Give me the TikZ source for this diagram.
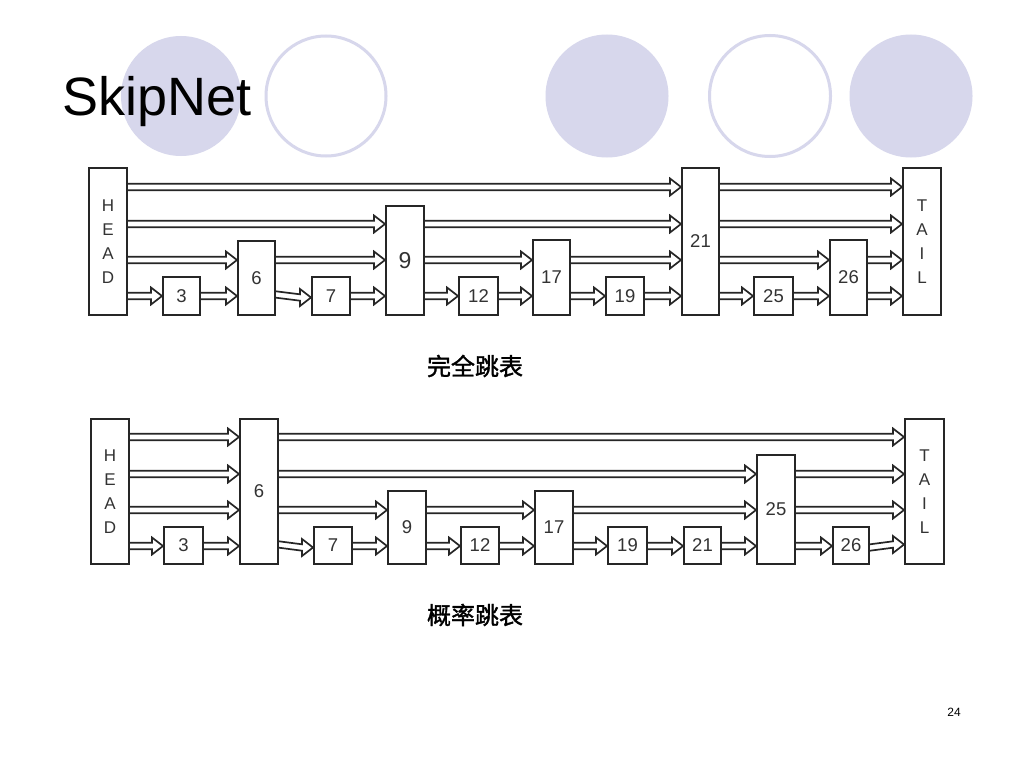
\documentclass[tikz,border=0pt]{standalone}
\usepackage{fontspec}
\setmainfont{Liberation Sans}
\newfontfamily\cjk[FakeBold=1.5]{Noto Sans CJK SC}
\usetikzlibrary{calc}
\definecolor{lav}{HTML}{D7D7EC}
\definecolor{ink}{HTML}{262626}
\definecolor{txt}{HTML}{333333}
\newcommand\mybox[6]{\node[box, anchor=south west, minimum width=#4pt-#2pt, minimum height=#5pt-#3pt] (#1) at (#2,#5) {#6};}
\begin{document}
\begin{tikzpicture}[x=1pt,y=-1pt,
  box/.style={draw=ink, line width=2pt, fill=white, inner sep=0pt, text=txt, font=\fontsize{18.5}{18.5}\selectfont},
  endbox/.style={font=\fontsize{17}{24.2}\selectfont, align=center},
  darr/.style={draw=ink, line width=1.7pt, to path={let \p1=(\tikztostart), \p2=(\tikztotarget) in
     (\x1,\y1+3.2pt) -- (\x2-11pt,\y2+3.2pt) -- (\x2-11pt,\y2+8.5pt) -- (\x2,\y2) -- (\x2-11pt,\y2-8.5pt) -- (\x2-11pt,\y2-3.2pt) -- (\x1,\y1-3.2pt)}},
  filledc/.style={fill=lav, draw=none},
  openc/.style={draw=lav, line width=3pt, fill=white}]
\useasboundingbox (0,0) rectangle (1024,768);
\fill[white] (0,0) rectangle (1024,768);
% decorative circles
\node[filledc, circle, minimum size=120pt, inner sep=0pt] (c1) at (181,96) {};
\node[openc, circle, minimum size=120pt, inner sep=0pt] (c2) at (326,96) {};
\node[filledc, circle, minimum size=123pt, inner sep=0pt] (c3) at (607,96) {};
\node[openc, circle, minimum size=121pt, inner sep=0pt] (c4) at (770,96) {};
\node[filledc, circle, minimum size=123pt, inner sep=0pt] (c5) at (911,96) {};
% title
\node[anchor=base west, inner sep=0pt, font=\fontsize{54}{54}\selectfont] (title) at (62,115) {SkipNet};

% ---------- top: complete skip list ----------
\coordinate (a1) at (0,187);
\coordinate (a2) at (0,224);
\coordinate (a3) at (0,260);
\coordinate (a4) at (0,296);
\mybox{tH}{88}{169}{126}{316}{}
\mybox{t3}{162}{278}{199}{316}{3}
\mybox{t6}{237}{242}{274}{316}{6}
\mybox{t7}{311}{278}{349}{316}{7}
\mybox{t9}{385}{207}{423}{316}{\fontsize{23}{23}\selectfont 9}
\mybox{t12}{458}{278}{497}{316}{12}
\mybox{t17}{532}{241}{569}{316}{17}
\mybox{t19}{605}{278}{643}{316}{19}
\mybox{t21}{681}{169}{718}{316}{21}
\mybox{t25}{753}{278}{792}{316}{25}
\mybox{t26}{829}{241}{866}{316}{26}
\mybox{tT}{902}{169}{940}{316}{}
\node[endbox, text=txt, inner sep=0pt] (tHl) at (tH.center) {H\\E\\A\\D};
\node[endbox, text=txt, inner sep=0pt] (tTl) at (tT.center) {T\\A\\I\\L};
% level 4
\draw[darr] (tH.east |- a4) to (t3.west |- a4);
\draw[darr] (t3.east |- a4) to (t6.west |- a4);
\draw[darr] ($(t6.east |- a4)+(0,-1.5)$) to ($(t7.west |- a4)+(0,1.5)$);
\draw[darr] (t7.east |- a4) to (t9.west |- a4);
\draw[darr] (t9.east |- a4) to (t12.west |- a4);
\draw[darr] (t12.east |- a4) to (t17.west |- a4);
\draw[darr] (t17.east |- a4) to (t19.west |- a4);
\draw[darr] (t19.east |- a4) to (t21.west |- a4);
\draw[darr] (t21.east |- a4) to (t25.west |- a4);
\draw[darr] (t25.east |- a4) to (t26.west |- a4);
\draw[darr] (t26.east |- a4) to (tT.west |- a4);
% level 3
\draw[darr] (tH.east |- a3) to (t6.west |- a3);
\draw[darr] (t6.east |- a3) to (t9.west |- a3);
\draw[darr] (t9.east |- a3) to (t17.west |- a3);
\draw[darr] (t17.east |- a3) to (t21.west |- a3);
\draw[darr] (t21.east |- a3) to (t26.west |- a3);
\draw[darr] (t26.east |- a3) to (tT.west |- a3);
% level 2
\draw[darr] (tH.east |- a2) to (t9.west |- a2);
\draw[darr] (t9.east |- a2) to (t21.west |- a2);
\draw[darr] (t21.east |- a2) to (tT.west |- a2);
% level 1
\draw[darr] (tH.east |- a1) to (t21.west |- a1);
\draw[darr] (t21.east |- a1) to (tT.west |- a1);
\node[font=\cjk\fontsize{24}{24}\selectfont, inner sep=0pt] (cap1) at (475,366) {完全跳表};

% ---------- bottom: probabilistic skip list ----------
\coordinate (b1) at (0,437);
\coordinate (b2) at (0,474);
\coordinate (b3) at (0,510);
\coordinate (b4) at (0,546);
\mybox{bH}{90}{420}{128}{565}{}
\mybox{b3n}{163}{528}{202}{565}{3}
\mybox{b6}{239}{420}{277}{565}{6}
\mybox{b7}{313}{528}{351}{565}{7}
\mybox{b9}{387}{492}{425}{565}{9}
\mybox{b12}{460}{528}{498}{565}{12}
\mybox{b17}{534}{492}{572}{565}{17}
\mybox{b19}{607}{528}{646}{565}{19}
\mybox{b21}{683}{528}{720}{565}{21}
\mybox{b25}{756}{456}{794}{565}{25}
\mybox{b26}{832}{528}{868}{565}{26}
\mybox{bT}{904}{420}{943}{565}{}
\node[endbox, text=txt, inner sep=0pt] (bHl) at (bH.center) {H\\E\\A\\D};
\node[endbox, text=txt, inner sep=0pt] (bTl) at (bT.center) {T\\A\\I\\L};
% level 4
\draw[darr] (bH.east |- b4) to (b3n.west |- b4);
\draw[darr] (b3n.east |- b4) to (b6.west |- b4);
\draw[darr] ($(b6.east |- b4)+(0,-1.5)$) to ($(b7.west |- b4)+(0,1.5)$);
\draw[darr] (b7.east |- b4) to (b9.west |- b4);
\draw[darr] (b9.east |- b4) to (b12.west |- b4);
\draw[darr] (b12.east |- b4) to (b17.west |- b4);
\draw[darr] (b17.east |- b4) to (b19.west |- b4);
\draw[darr] (b19.east |- b4) to (b21.west |- b4);
\draw[darr] (b21.east |- b4) to (b25.west |- b4);
\draw[darr] (b25.east |- b4) to (b26.west |- b4);
\draw[darr] ($(b26.east |- b4)+(0,1.5)$) to ($(bT.west |- b4)+(0,-1.5)$);
% level 3
\draw[darr] (bH.east |- b3) to (b6.west |- b3);
\draw[darr] (b6.east |- b3) to (b9.west |- b3);
\draw[darr] (b9.east |- b3) to (b17.west |- b3);
\draw[darr] (b17.east |- b3) to (b25.west |- b3);
\draw[darr] (b25.east |- b3) to (bT.west |- b3);
% level 2
\draw[darr] (bH.east |- b2) to (b6.west |- b2);
\draw[darr] (b6.east |- b2) to (b25.west |- b2);
\draw[darr] (b25.east |- b2) to (bT.west |- b2);
% level 1
\draw[darr] (bH.east |- b1) to (b6.west |- b1);
\draw[darr] (b6.east |- b1) to (bT.west |- b1);
\node[font=\cjk\fontsize{24}{24}\selectfont, inner sep=0pt] (cap2) at (475,615) {概率跳表};

\node[font=\fontsize{12}{12}\selectfont, inner sep=0pt] (pg) at (954,712) {24};
\end{tikzpicture}
\end{document}
